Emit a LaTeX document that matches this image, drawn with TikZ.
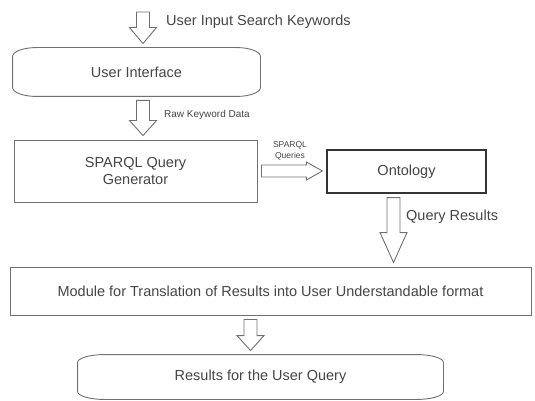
\documentclass[tikz,border=0pt]{standalone}
\usepackage{fontspec}
\setmainfont{Liberation Sans}
\usetikzlibrary{calc}

\definecolor{inkgray}{HTML}{454545}
\definecolor{linegray}{HTML}{707070}

% hollow block arrows, drawn from the start point down (or right) to the target
\tikzset{
  frame/.style={draw=linegray, line width=0.9pt},
  box/.style={frame, inner sep=0pt, align=center, text=inkgray},
  lbl/.style={inner sep=0pt, text=inkgray},
  fatdown/.style={frame, fill=white, to path={let \p1=(\tikztostart), \p2=(\tikztotarget) in
    (\x1-6.5pt,\y1-4pt) -- (\x1+6.5pt,\y1-4pt) -- (\x1+6.5pt,\y2+4pt+#1)
    -- (\x1+13.5pt,\y2+4pt+#1) -- (\x1,\y2+4pt) -- (\x1-13.5pt,\y2+4pt+#1)
    -- (\x1-6.5pt,\y2+4pt+#1) -- cycle}},
  fatdown/.default=16pt,
  fatright/.style={frame, fill=white, to path={let \p1=(\tikztostart), \p2=(\tikztotarget) in
    (\x1+4pt,\y1+6pt) -- (\x2-4pt-#1,\y1+6pt) -- (\x2-4pt-#1,\y1+9pt)
    -- (\x2-4pt,\y1) -- (\x2-4pt-#1,\y1-9pt) -- (\x2-4pt-#1,\y1-6pt)
    -- (\x1+4pt,\y1-6pt) -- cycle}},
  fatright/.default=16pt
}

% box with flattened round corners
\newcommand\softframe[3]{%
  \draw[frame] ([xshift=#2]#1.north west) -- ([xshift=-#2]#1.north east)
    arc[start angle=90, end angle=0, x radius=#2, y radius=#3]
    -- ([yshift=#3]#1.south east)
    arc[start angle=0, end angle=-90, x radius=#2, y radius=#3]
    -- ([xshift=#2]#1.south west)
    arc[start angle=270, end angle=180, x radius=#2, y radius=#3]
    -- ([yshift=-#3]#1.north west)
    arc[start angle=180, end angle=90, x radius=#2, y radius=#3] -- cycle;}

\begin{document}
\begin{tikzpicture}[x=1pt, y=-1pt, font=\fontsize{14.5}{17}\selectfont]
  \useasboundingbox (0,0) rectangle (535,401);

  \node[box, draw=none, minimum width=247pt, minimum height=48pt] (ui) at (136.5,72) {User Interface};
  \softframe{ui}{24pt}{9pt}
  \node[box, minimum width=243pt, minimum height=62pt] (sq) at (135.5,171) {SPARQL Query\\Generator};
  \node[box, draw=black!80, line width=1.2pt, minimum width=159pt, minimum height=43pt] (onto) at (406.5,171.5) {Ontology};
  \node[box, minimum width=521pt, minimum height=48pt] (mod) at (270.5,291) {Module for Translation of Results into User Understandable format};
  \node[box, draw=none, minimum width=365pt, minimum height=44pt] (res) at (260.5,377) {Results for the User Query};
  \softframe{res}{27pt}{8pt}

  \coordinate (in) at (143,8);
  \draw[fatdown] (in) to (ui.north);
  \draw[fatdown=15pt] (ui.south -| in) to (sq.north);
  \draw[fatright] (sq.east) to (onto.west);
  \draw[fatdown=30pt] ([xshift=-13pt]onto.south) to ([xshift=-13pt]mod.north);
  \draw[fatdown=15pt] ([xshift=-20pt]mod.south) to ([xshift=-20pt]res.north);

  \node[lbl, anchor=west] (kw) at (166,22) {User Input Search Keywords};
  \node[lbl, anchor=west, font=\fontsize{10}{12}\selectfont] (raw) at (164,115) {Raw Keyword Data};
  \node[lbl, align=center, font=\fontsize{8.5}{11}\selectfont] (qs) at (290,151) {SPARQL\\Queries};
  \node[lbl, anchor=west] (qr) at (406,217) {Query Results};
\end{tikzpicture}
\end{document}
